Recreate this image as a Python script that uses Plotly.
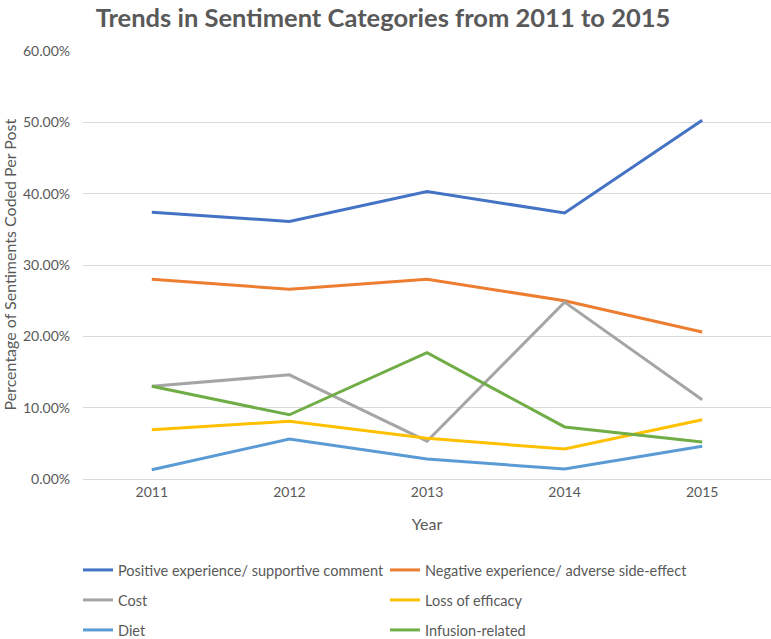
import plotly.graph_objects as go

years = ["2011", "2012", "2013", "2014", "2015"]
positive = [0.374, 0.361, 0.403, 0.373, 0.503]
negative = [0.280, 0.266, 0.280, 0.250, 0.206]
cost = [0.130, 0.146, 0.053, 0.248, 0.111]
loss_efficacy = [0.069, 0.081, 0.057, 0.042, 0.083]
diet = [0.013, 0.056, 0.028, 0.014, 0.046]
infusion = [0.130, 0.090, 0.177, 0.073, 0.052]

series_names = ["Positive experience/ supportive comment",
                "Negative experience/ adverse side-effect",
                "Cost", "Loss of efficacy", "Diet", "Infusion-related"]
series_values = [positive, negative, cost, loss_efficacy, diet, infusion]
series_colors = ["#4472C4", "#ED7D31", "#A5A5A5", "#FFC000", "#5B9BD5", "#70AD47"]

FONT = "Lato"
W, H = 771, 639
fig = go.Figure()
legend_layout = {}
for i, (name, vals, color) in enumerate(zip(series_names, series_values, series_colors)):
    lg = "legend" if i == 0 else f"legend{i + 1}"
    fig.add_trace(go.Scatter(x=years, y=vals, name=name, mode="lines", legend=lg,
                             line=dict(color=color, width=3)))
    col, row = i % 2, i // 2
    lx = 78 if col == 0 else 385
    ly = 570 + 30 * row
    legend_layout[lg] = dict(orientation="h", xref="container", yref="container",
                             x=lx / W, xanchor="left", y=1 - ly / H, yanchor="middle",
                             bgcolor="rgba(0,0,0,0)",
                             font=dict(size=14.5, color="#595959", family=FONT))

L, T, B = 83, 51, 160
plot_h = H - T - B
fig.add_annotation(text="Percentage of Sentiments Coded Per Post", textangle=-90,
                   xref="paper", yref="paper", x=(9 - L) / (W - L), y=(H - B - 264.5) / plot_h,
                   xanchor="center", yanchor="middle", showarrow=False,
                   font=dict(size=16, color="#595959", family=FONT))

fig.update_layout(
    width=W, height=H,
    paper_bgcolor="white", plot_bgcolor="white",
    margin=dict(l=L, r=0, t=T, b=B),
    font=dict(family=FONT, color="#595959", size=14),
    title=dict(text="<b>Trends in Sentiment Categories from 2011 to 2015</b>",
               x=383/W, xanchor="center", xref="container", y=1 - 18/H, yanchor="middle",
               font=dict(size=25.5, color="#595959", family=FONT)),
    xaxis=dict(type="category", range=[-0.5, 4.5], showgrid=False, showline=True,
               linecolor="#d9d9d9", ticks="", automargin=False,
               tickfont=dict(size=14, color="#595959"),
               title=dict(text="Year", font=dict(size=16, color="#595959"), standoff=20)),
    yaxis=dict(range=[0, 0.6], dtick=0.1, tickformat=".2%", showgrid=True,
               gridcolor="#d9d9d9", gridwidth=1, zeroline=False, showline=False,
               ticks="", automargin=False, ticklabelstandoff=12,
               tickfont=dict(size=14, color="#595959")),
    showlegend=True,
    **legend_layout,
)

fig.write_html("out.html", config={"displayModeBar": False},
               post_script="document.body.style.margin='0';document.body.style.overflow='hidden';")
